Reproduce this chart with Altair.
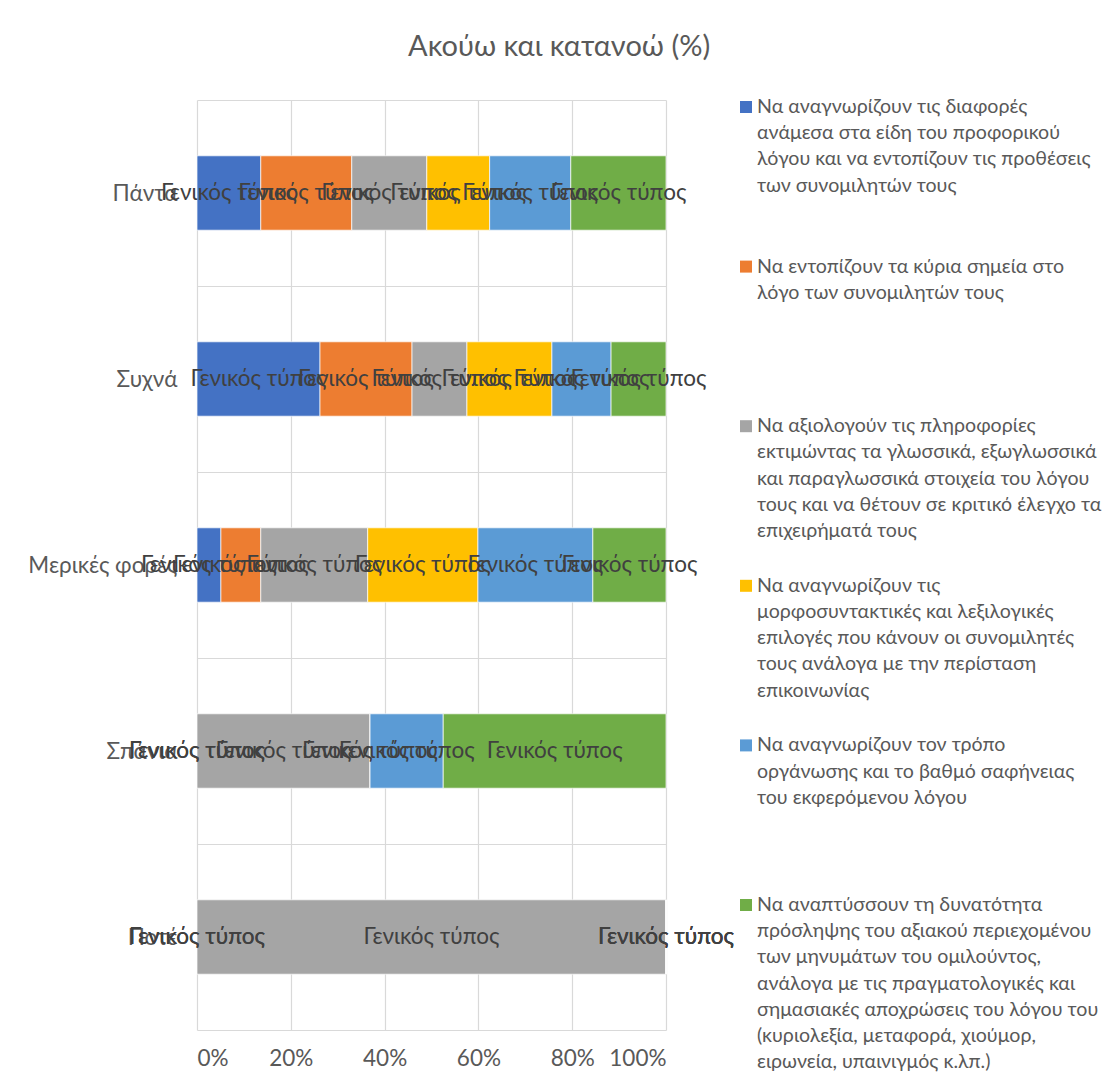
import altair as alt
import pandas as pd

FONT = "Lato"

title_text = "Ακούω και κατανοώ (%)"
categories = ["Πάντα", "Συχνά", "Μερικές φορές", "Σπάνια", "Ποτέ"]
label_text = "Γενικός τύπος"

series_lines = [
    ["Να αναγνωρίζουν τις διαφορές", "ανάμεσα στα είδη του προφορικού",
     "λόγου και να εντοπίζουν τις προθέσεις", "των συνομιλητών τους"],
    ["Να εντοπίζουν τα κύρια σημεία στο", "λόγο των συνομιλητών τους"],
    ["Να αξιολογούν τις πληροφορίες", "εκτιμώντας τα γλωσσικά, εξωγλωσσικά",
     "και παραγλωσσικά στοιχεία του λόγου", "τους και να θέτουν σε κριτικό έλεγχο τα",
     "επιχειρήματά τους"],
    ["Να αναγνωρίζουν τις", "μορφοσυντακτικές και λεξιλογικές",
     "επιλογές που κάνουν οι συνομιλητές", "τους ανάλογα με την περίσταση",
     "επικοινωνίας"],
    ["Να αναγνωρίζουν τον τρόπο", "οργάνωσης και το βαθμό σαφήνειας",
     "του εκφερόμενου λόγου"],
    ["Να αναπτύσσουν τη δυνατότητα", "πρόσληψης του αξιακού περιεχομένου",
     "των μηνυμάτων του ομιλούντος,", "ανάλογα με τις πραγματολογικές και",
     "σημασιακές αποχρώσεις του λόγου του", "(κυριολεξία, μεταφορά, χιούμορ,",
     "ειρωνεία, υπαινιγμός κ.λπ.)"],
]
series_names = [" ".join(l) for l in series_lines]
colors = ["#4472C4", "#ED7D31", "#A5A5A5", "#FFC000", "#5B9BD5", "#70AD47"]

# values per series, in category order
s1 = [13.6, 26.2, 5.1, 0.0, 0.0]
s2 = [19.4, 19.6, 8.5, 0.0, 0.0]
s3 = [16.0, 11.7, 22.8, 36.9, 100.0]
s4 = [13.4, 18.1, 23.5, 0.0, 0.0]
s5 = [17.3, 12.6, 24.5, 15.6, 0.0]
s6 = [20.3, 11.7, 15.6, 47.5, 0.0]
series_values = [s1, s2, s3, s4, s5, s6]

rows = []
for si, (name, vals) in enumerate(zip(series_names, series_values)):
    for cat, v in zip(categories, vals):
        rows.append({"category": cat, "series": name, "sidx": si, "value": v, "label": label_text})
df = pd.DataFrame(rows)

color_scale = alt.Scale(domain=series_names, range=colors)

AX_FS = 22.5
base = alt.Chart(df).transform_stack(
    stack="value", groupby=["category"], as_=["x0", "x1"], offset="normalize",
    sort=[alt.SortField("sidx", order="ascending")],
).transform_calculate(mid="(datum.x0 + datum.x1) / 2")

y_enc = alt.Y(
    "category:N", sort=categories,
    scale=alt.Scale(paddingInner=0, paddingOuter=0),
    axis=alt.Axis(title=None, ticks=False, domain=False, grid=True, tickBand="extent",
                  gridColor="#D9D9D9", gridWidth=1.2, labelFontSize=AX_FS, labelColor="#595959",
                  labelFont=FONT, labelPadding=20, minExtent=192, maxExtent=192),
)

bars = base.mark_bar(height={"band": 0.4}, stroke="white", strokeWidth=0.7).encode(
    y=y_enc,
    x=alt.X("x0:Q", scale=alt.Scale(domain=[0, 1]),
            axis=alt.Axis(title=None, values=[0, 0.2, 0.4, 0.6, 0.8, 1.0], format=".0%",
                          ticks=False, domain=False, grid=True, gridColor="#D9D9D9", gridWidth=1.2,
                          labelFontSize=AX_FS, labelColor="#595959", labelFont=FONT, labelPadding=17)),
    x2="x1:Q",
    color=alt.Color("series:N", scale=color_scale, legend=None),
)

labels = base.mark_text(fontSize=AX_FS, color="#404040", font=FONT).encode(
    y=alt.Y("category:N", sort=categories),
    x=alt.X("mid:Q"),
    text="label:N",
)

main = (bars + labels).properties(width=469, height=930)

# custom legend
SLOT = 159.6
LINE = 26.2
TOP = 7
LH = 968
leg_rows = []
sq_rows = []
for si, lines in enumerate(series_lines):
    for k, line in enumerate(lines):
        leg_rows.append({"series": series_names[si], "line": line, "ypos": TOP + si * SLOT + k * LINE})
    sq_rows.append({"series": series_names[si], "ypos": TOP + si * SLOT})
leg_df = pd.DataFrame(leg_rows)
sq_df = pd.DataFrame(sq_rows)

ly = alt.Y("ypos:Q", scale=alt.Scale(domain=[0, LH], range=[0, LH]), axis=None)
leg_text = alt.Chart(leg_df).mark_text(align="left", baseline="middle", fontSize=19.6,
                                       color="#595959", font=FONT).encode(
    x=alt.value(17), y=ly, text="line:N")
leg_sq = alt.Chart(sq_df).mark_square(size=144, opacity=1).encode(
    x=alt.value(6), y=ly, color=alt.Color("series:N", scale=color_scale, legend=None))
legend = (leg_sq + leg_text).properties(width=358, height=LH)

chart = alt.hconcat(
    main, legend, spacing=6,
    title=alt.TitleParams(title_text, fontSize=29, color="#595959", font=FONT,
                          fontWeight="normal", anchor="middle", offset=27, dx=6),
).properties(
    padding={"left": 5, "top": 33, "right": 2, "bottom": 4},
    background="white",
).configure_view(strokeWidth=0)

chart.save("out.html", embed_options={"renderer": "svg", "actions": False})
